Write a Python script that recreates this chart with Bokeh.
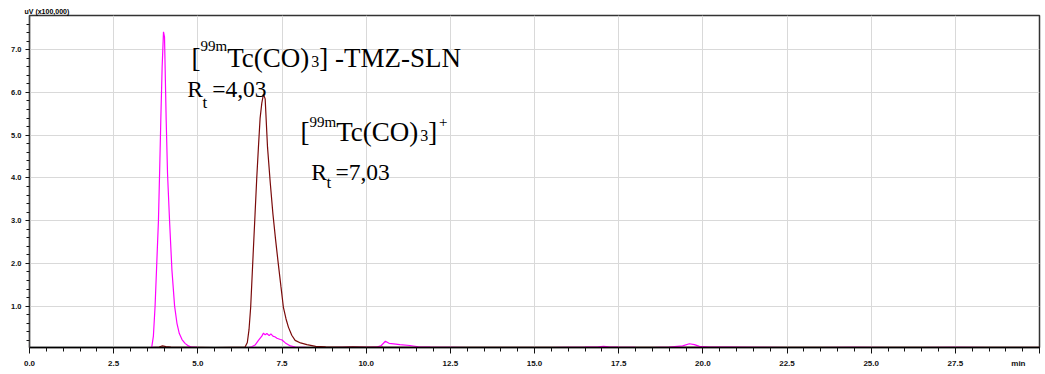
from bokeh.plotting import figure
from bokeh.models import Range1d, FixedTicker, Label, Title
from bokeh.embed import file_html
from bokeh.resources import INLINE

# ---------------- data ----------------
tmz_time = [
    0.0, 0.5, 1.0, 1.5, 2.0,
    2.5, 3.0, 3.5, 3.63, 3.68,
    3.73, 3.78, 3.83, 3.87, 3.90,
    3.94, 3.98, 4.01, 4.06, 4.10,
    4.16, 4.23, 4.31, 4.38, 4.45,
    4.53, 4.62, 4.72, 4.82, 5.0,
    5.5, 6.0, 6.5, 6.6, 6.7,
    6.8, 6.9, 6.95, 7.0, 7.05,
    7.12, 7.17, 7.23, 7.3, 7.35,
    7.45, 7.5, 7.6, 7.75, 7.9,
    8.2, 8.6, 9.0, 9.5, 10.0,
    10.3, 10.45, 10.57, 10.68, 10.82,
    11.0, 11.3, 11.55, 11.9, 12.5,
    13.0, 13.5, 14.0, 14.5, 15.0,
    15.5, 16.0, 16.5, 16.9, 17.05,
    17.2, 17.5, 18.0, 18.5, 19.0,
    19.4, 19.6, 19.75, 19.9, 20.2,
    20.8, 21.5, 22.5, 23.5, 24.5,
    25.5, 26.5, 27.5, 28.5, 29.5,
    30.0]
tmz_signal = [
    0.030, 0.028, 0.030, 0.029, 0.031,
    0.030, 0.029, 0.030, 0.035, 0.30,
    1.00, 2.00, 3.00, 4.30, 5.35,
    6.60, 7.42, 7.30, 5.35, 4.10,
    3.00, 1.85, 1.00, 0.60, 0.36,
    0.22, 0.13, 0.07, 0.04, 0.035,
    0.032, 0.030, 0.031, 0.05, 0.09,
    0.20, 0.30, 0.37, 0.33, 0.36,
    0.31, 0.35, 0.30, 0.28, 0.25,
    0.22, 0.21, 0.14, 0.07, 0.045,
    0.035, 0.033, 0.032, 0.034, 0.035,
    0.04, 0.08, 0.18, 0.13, 0.12,
    0.10, 0.08, 0.05, 0.04, 0.035,
    0.030, 0.032, 0.030, 0.033, 0.031,
    0.030, 0.035, 0.04, 0.05, 0.06,
    0.05, 0.04, 0.035, 0.033, 0.04,
    0.07, 0.12, 0.10, 0.06, 0.045,
    0.04, 0.035, 0.033, 0.032, 0.035,
    0.033, 0.032, 0.034, 0.033, 0.032,
    0.032]

tc_time = [
    0.0, 1.0, 2.0, 3.0, 3.6,
    3.85, 3.95, 4.05, 4.2, 4.5,
    5.0, 5.5, 6.0, 6.3, 6.4,
    6.47, 6.52, 6.57, 6.63, 6.7,
    6.75, 6.8, 6.85, 6.9, 6.95,
    7.0, 7.07, 7.15, 7.23, 7.31,
    7.39, 7.47, 7.54, 7.62, 7.69,
    7.79, 7.89, 8.05, 8.24, 8.5,
    8.8, 9.0, 9.3, 9.6, 10.0,
    10.5, 11.0, 12.0, 13.0, 14.0,
    15.0, 16.0, 17.0, 18.0, 19.0,
    20.0, 21.0, 22.0, 23.0, 24.0,
    25.0, 26.0, 27.0, 28.0, 29.0,
    30.0]
tc_signal = [
    0.030, 0.031, 0.030, 0.031, 0.032,
    0.045, 0.07, 0.055, 0.04, 0.035,
    0.034, 0.033, 0.034, 0.035, 0.04,
    0.15, 0.45, 0.98, 2.0, 3.16,
    4.0, 4.72, 5.4, 5.75, 5.96,
    5.85, 4.72, 3.9, 3.16, 2.55,
    1.99, 1.45, 0.98, 0.70, 0.51,
    0.32, 0.20, 0.14, 0.10, 0.06,
    0.05, 0.045, 0.04, 0.05, 0.045,
    0.04, 0.038, 0.035, 0.036, 0.034,
    0.035, 0.036, 0.035, 0.034, 0.036,
    0.035, 0.034, 0.035, 0.036, 0.034,
    0.035, 0.034, 0.035, 0.036, 0.034,
    0.035]

x_ticks = [0.0, 2.5, 5.0, 7.5, 10.0, 12.5, 15.0, 17.5, 20.0, 22.5, 25.0, 27.5]
x_tick_labels = ["0.0", "2.5", "5.0", "7.5", "10.0", "12.5", "15.0", "17.5",
                 "20.0", "22.5", "25.0", "27.5"]
x_unit_label = "min"
y_ticks = [1.0, 2.0, 3.0, 4.0, 5.0, 6.0, 7.0]
y_tick_labels = ["1.0", "2.0", "3.0", "4.0", "5.0", "6.0", "7.0"]
y_unit_label = "uV (x100,000)"

# ---------------- figure ----------------
W, H = 1045, 374
BL, BR, BT, BB = 29, 6, 15, 27
X0, X1 = 0.0, 30.0
Y0, Y1 = 0.033, 7.80

p = figure(width=W, height=H, output_backend="svg", toolbar_location=None,
           x_range=Range1d(X0, X1), y_range=Range1d(Y0, Y1),
           min_border_left=BL, min_border_right=BR,
           min_border_top=BT, min_border_bottom=BB)
p.background_fill_color = "white"
p.border_fill_color = "white"
p.outline_line_color = "#333333"
p.outline_line_width = 1.5

# y-unit caption as a left-aligned title above the frame
p.title = Title(text=y_unit_label, align="left", offset=-5, standoff=2,
                text_font="Liberation Sans", text_font_style="bold",
                text_font_size="7px", text_color="black")

fw = W - BL - BR
fh = H - BT - BB


def px2x(px):
    return X0 + (px - BL) * (X1 - X0) / fw


def py2y(py):
    return Y1 - (py - BT) * (Y1 - Y0) / fh


# axes ("min" is placed as a padded label on the right end of the x axis)
x_major = x_ticks + [X1]
x_over = {t: l for t, l in zip(x_ticks, x_tick_labels)}
x_over[X1] = x_unit_label + "\u00a0" * 9
p.xaxis.ticker = FixedTicker(ticks=x_major, minor_ticks=[i * 0.5 for i in range(61)])
p.xaxis.major_label_overrides = x_over
p.xgrid.ticker = FixedTicker(ticks=x_ticks)
p.yaxis.ticker = FixedTicker(ticks=y_ticks, minor_ticks=[i * 0.2 for i in range(1, 40)])
p.yaxis.major_label_overrides = {t: l for t, l in zip(y_ticks, y_tick_labels)}

for ax in (p.xaxis[0], p.yaxis[0]):
    ax.major_label_text_font = "Liberation Sans"
    ax.major_label_text_font_style = "bold"
    ax.major_label_text_color = "#111111"
    ax.major_tick_in = 0
    ax.minor_tick_in = 0
    ax.major_tick_line_color = "#111111"
    ax.minor_tick_line_color = "#111111"

p.xaxis.major_label_text_font_size = "8px"
p.yaxis.major_label_text_font_size = "7.5px"

p.xaxis.axis_line_color = "black"
p.xaxis.axis_line_width = 1.5
p.xaxis.major_tick_out = 6
p.xaxis.minor_tick_out = 4
p.xaxis.major_label_standoff = 5

p.yaxis.axis_line_color = "#444444"
p.yaxis.axis_line_width = 1.2
p.yaxis.major_tick_out = 4
p.yaxis.minor_tick_out = 3
p.yaxis.major_label_standoff = 4

p.xgrid.grid_line_color = "#d9d9d9"
p.ygrid.grid_line_color = "#d9d9d9"
p.xgrid.grid_line_width = 1
p.ygrid.grid_line_width = 1

# traces
p.line(tmz_time, tmz_signal, line_color="#ff00ff", line_width=1.2)
p.line(tc_time, tc_signal, line_color="#7a0a0a", line_width=1.2)

# ---------------- annotations ----------------
SERIF = "Liberation Serif"
NBSP = "\u00a0"


def put(text, px, py, size, font=SERIF, style="normal", color="black"):
    p.add_layout(Label(x=px2x(px), y=py2y(py), text=text,
                       text_font=font, text_font_size=f"{size}px",
                       text_font_style=style, text_color=color,
                       text_align="left", text_baseline="alphabetic"))


# [99mTc(CO)3] -TMZ-SLN
put("[", 191.0, 57.3, 27)
put("99m", 200.0, 45.0, 15)
put("Tc(CO)", 226.7, 57.3, 27)
put("3", 310.7, 60.5, 16)
put("]" + NBSP + "-TMZ-SLN", 318.7, 57.3, 27)

# Rt =4,03
put("R", 186.7, 88.3, 23.5)
put("t", 202.0, 101.5, 17)
put(NBSP + "=4,03", 205.8, 88.3, 23.5)

# [99mTc(CO)3]+
put("[", 300.0, 131.7, 27)
put("99m", 309.0, 121.0, 15)
put("Tc(CO)", 335.7, 131.7, 27)
put("3", 419.7, 134.5, 16)
put("]", 427.7, 131.7, 27)
put("+", 438.5, 121.0, 15)

# Rt =7,03
put("R", 310.7, 171.7, 23.5)
put("t", 326.0, 182.0, 17)
put(NBSP + "=7,03", 329.1, 171.7, 23.5)

open("out.html", "w").write(file_html(p, INLINE))
